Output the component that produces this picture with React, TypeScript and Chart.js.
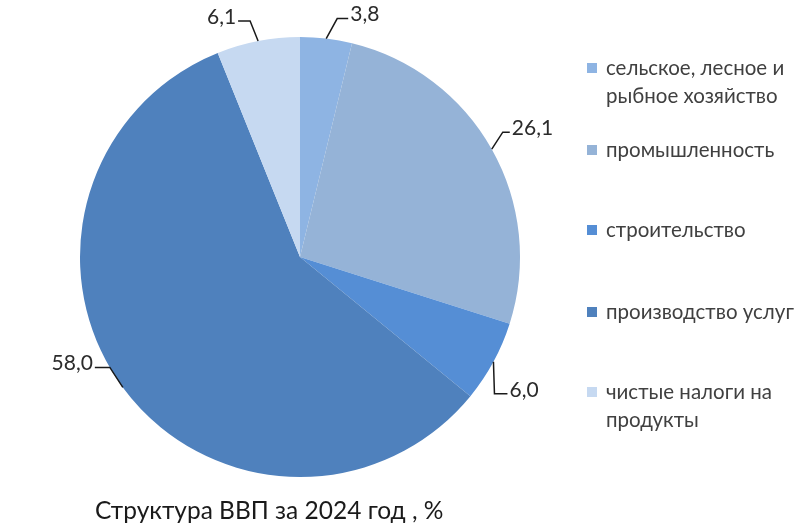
import React, { useEffect, useRef } from 'react';
import { Chart, registerables } from 'chart.js';

Chart.register(...registerables);

const categories: string[][] = [
  ['сельское, лесное и', 'рыбное хозяйство'],
  ['промышленность'],
  ['строительство'],
  ['производство услуг'],
  ['чистые налоги на', 'продукты'],
];
const shares: number[] = [3.8, 26.1, 6.0, 58.0, 6.1];
const valueLabels: string[] = ['3,8', '26,1', '6,0', '58,0', '6,1'];
const chartTitle = 'Структура ВВП за 2024 год , %';

const colors = ['#8EB4E3', '#95B3D7', '#558ED5', '#4F81BD', '#C6D9F1'];
const FONT = 'Lato, "Open Sans", sans-serif';

// leader line geometry: elbow & end offsets relative to the arc anchor (style only)
const leaders = [
  { elbow: [11, -20], end: [22, -20], align: 'left' },
  { elbow: [11, -17], end: [18, -17], align: 'left' },
  { elbow: [1, 32], end: [14, 32], align: 'left' },
  { elbow: [-13, -20], end: [-28, -20], align: 'right' },
  { elbow: [-8, -20], end: [-20, -20], align: 'right' },
];
const legendTops = [68, 150, 230, 312, 392];

const overlay = {
  id: 'overlay',
  afterDraw(chart: any) {
    const ctx = chart.ctx;
    const meta = chart.getDatasetMeta(0);
    ctx.save();
    // data labels with leader lines
    meta.data.forEach((arc: any, i: number) => {
      const p = arc.getProps(['x', 'y', 'startAngle', 'endAngle', 'outerRadius'], true);
      const mid = (p.startAngle + p.endAngle) / 2;
      const ax = p.x + Math.cos(mid) * p.outerRadius;
      const ay = p.y + Math.sin(mid) * p.outerRadius;
      const L = leaders[i];
      const ex = ax + L.elbow[0], ey = ay + L.elbow[1];
      const tx = ax + L.end[0], ty = ay + L.end[1];
      ctx.strokeStyle = '#1a1a1a';
      ctx.lineWidth = 1.5;
      ctx.beginPath();
      ctx.moveTo(ax, ay);
      ctx.lineTo(ex, ey);
      ctx.lineTo(tx, ty);
      ctx.stroke();
      ctx.fillStyle = '#2b2b2b';
      ctx.font = `21px ${FONT}`;
      ctx.textBaseline = 'middle';
      ctx.textAlign = L.align as CanvasTextAlign;
      ctx.fillText(valueLabels[i], L.align === 'left' ? tx + 2 : tx - 2, ty - 4);
    });
    // legend
    ctx.font = `20.5px ${FONT}`;
    ctx.textAlign = 'left';
    ctx.textBaseline = 'middle';
    categories.forEach((lines, i) => {
      const y0 = legendTops[i];
      ctx.fillStyle = colors[i];
      ctx.fillRect(587, y0 - 5, 10, 10);
      ctx.fillStyle = '#404040';
      lines.forEach((ln, j) => ctx.fillText(ln, 606, y0 + j * 28));
    });
    // title
    ctx.font = `24.5px ${FONT}`;
    ctx.fillStyle = '#1a1a1a';
    ctx.textAlign = 'left';
    ctx.fillText(chartTitle, 95, 511);
    ctx.restore();
  },
};

export default function App() {
  const ref = useRef<HTMLCanvasElement>(null);
  useEffect(() => {
    document.body.style.margin = '0';
    const chart = new Chart(ref.current!, {
      type: 'pie',
      data: {
        labels: categories,
        datasets: [
          {
            data: shares,
            backgroundColor: colors,
            borderWidth: 0,
          },
        ],
      },
      options: {
        animation: false,
        responsive: false,
        layout: { padding: { left: 80, right: 285, top: 37, bottom: 49 } },
        plugins: { legend: { display: false }, tooltip: { enabled: false } },
      },
      plugins: [overlay],
    });
    return () => chart.destroy();
  }, []);
  return (
    <div style={{ width: 805, height: 526, background: '#fff' }}>
      <canvas ref={ref} width={805} height={526} />
    </div>
  );
}
